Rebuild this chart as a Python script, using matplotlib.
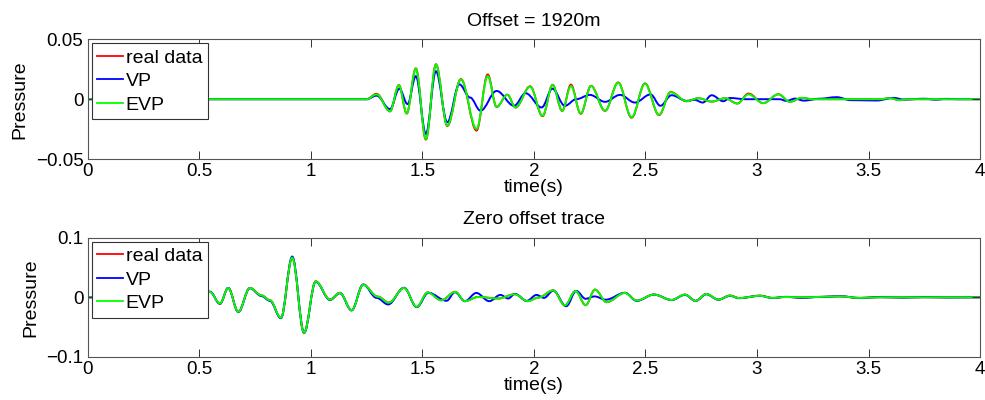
"""Seismic trace comparison: real data vs VP vs EVP modelling."""

import matplotlib

matplotlib.use("Agg")
import matplotlib.pyplot as plt
from matplotlib.lines import Line2D
from matplotlib.patches import PathPatch
from matplotlib.path import Path

plt.rcParams["font.family"] = ["Liberation Sans", "DejaVu Sans"]

# --- data (extrema of each trace: time in s, pressure) ---
# Offset = 1920 m (real data and EVP share the picked times)
far_t = [0, 1.25, 1.295, 1.355, 1.395, 1.430, 1.471, 1.516, 1.561, 1.612,
         1.673, 1.743, 1.793, 1.833, 1.881, 1.918, 1.983, 2.039, 2.084, 2.127,
         2.166, 2.210, 2.256, 2.319, 2.378, 2.438, 2.498, 2.561, 2.613, 2.685,
         2.737, 2.797, 2.857, 2.912, 2.962, 3.028, 3.096, 3.148, 3.200, 3.25,
         3.55, 3.596, 3.64, 3.68, 4.0]
far_real = [0, 0, 0.0045, -0.0102, 0.0118, -0.012, 0.0258, -0.0338, 0.0292, -0.0224,
            0.0168, -0.0262, 0.0207, -0.0065, 0.0038, -0.007, 0.0108, -0.0142, 0.012, -0.0098,
            0.0122, -0.0122, 0.0112, -0.0098, 0.014, -0.0155, 0.0132, -0.0133, 0.006, -0.0017,
            0.0008, -0.002, 0.0008, -0.0036, 0.0047, -0.0033, 0.0041, -0.0022, 0.0011, 0,
            0, 0.0008, -0.0008, 0, 0]
far_evp = [0, 0, 0.004, -0.010, 0.0116, -0.0118, 0.0256, -0.0333, 0.029, -0.022,
           0.0165, -0.0248, 0.0193, -0.0063, 0.0036, -0.0069, 0.0105, -0.0138, 0.0118, -0.0096,
           0.011, -0.0118, 0.011, -0.0096, 0.0138, -0.0151, 0.013, -0.013, 0.0058, -0.0017,
           0.0008, -0.002, 0.0008, -0.0036, 0.004, -0.0033, 0.0041, -0.0022, 0.0011, 0,
           0, 0.0008, -0.0008, 0, 0]
far_vp_t = [0, 1.25, 1.295, 1.355, 1.397, 1.434, 1.471, 1.516, 1.561, 1.612,
            1.666, 1.714, 1.761, 1.833, 1.911, 1.963, 2.035, 2.083, 2.139, 2.190,
            2.251, 2.319, 2.386, 2.453, 2.523, 2.567, 2.617, 2.685, 2.720, 2.757,
            2.797, 2.849, 2.879, 2.95, 3.10, 3.133, 3.17, 3.21, 3.28, 3.357,
            3.42, 3.537, 3.611, 3.66, 3.75, 3.80, 3.85, 3.90, 4.0]
far_vp = [0, 0, 0.003, -0.0083, 0.0088, -0.0041, 0.0193, -0.029, 0.0234, -0.0193,
          0.0124, 0.0014, -0.0096, 0.0069, -0.0055, 0.005, -0.0069, 0.0088, -0.0055, 0.0,
          0.0036, -0.0022, 0.0036, -0.0028, 0.004, -0.0055, 0.0033, -0.0014, -0.0005, -0.0028,
          0.0033, -0.0017, 0.001, 0, 0, -0.0014, 0.0005, -0.0012, 0.0004, 0.0017,
          -0.0008, -0.0011, 0.0011, -0.0003, 0.0004, -0.0004, 0.0003, 0, 0]

# Zero offset trace
zero_t = [0, 0.51, 0.548, 0.593, 0.630, 0.675, 0.727, 0.780, 0.817, 0.866,
          0.917, 0.970, 1.022, 1.086, 1.131, 1.183, 1.235, 1.300, 1.350, 1.418,
          1.475, 1.524, 1.585, 1.648, 1.691, 1.75, 1.84, 1.915, 1.972, 2.02,
          2.087, 2.139, 2.187, 2.232, 2.274, 2.326, 2.408, 2.461, 2.538, 2.618,
          2.677, 2.725, 2.773, 2.827, 2.879, 2.92, 3.013, 3.07, 3.13, 3.2,
          3.372, 3.46, 3.55, 4.0]
zero_real = [0, 0, 0.0092, -0.0107, 0.0158, -0.0246, 0.0158, 0.0032, -0.0048, -0.0346,
             0.0668, -0.0596, 0.0269, -0.0036, 0.0076, -0.0218, 0.0212, 0.0012, -0.0088, 0.0158,
             -0.0162, 0.0082, -0.005, 0.0092, -0.0065, 0.0005, -0.002, 0.0052, -0.0065, -0.0005,
             0.0117, -0.0137, 0.0107, -0.0133, 0.013, -0.0082, 0.0075, -0.0055, 0.0047, -0.0045,
             0.0045, -0.006, 0.0057, -0.0039, 0.003, -0.0013, 0.0028, -0.001, 0.0005, 0.0,
             0.0016, -0.001, 0, 0]
zero_evp = [0, 0, 0.009, -0.0105, 0.0156, -0.0244, 0.0156, 0.003, -0.005, -0.0344,
            0.0665, -0.0594, 0.0267, -0.0039, 0.0073, -0.0217, 0.021, 0.001, -0.009, 0.0156,
            -0.016, 0.008, -0.005, 0.009, -0.0065, 0.0005, -0.002, 0.005, -0.0065, -0.0005,
            0.0115, -0.0135, 0.0105, -0.013, 0.0128, -0.008, 0.0073, -0.0055, 0.0045, -0.0045,
            0.0045, -0.006, 0.0055, -0.0039, 0.0028, -0.0013, 0.0025, -0.001, 0.0005, 0.0,
            0.0015, -0.001, 0, 0]
zero_vp_t = [0, 0.51, 0.548, 0.593, 0.630, 0.675, 0.727, 0.780, 0.817, 0.866,
             0.917, 0.970, 1.022, 1.086, 1.131, 1.183, 1.235, 1.295, 1.347, 1.418,
             1.475, 1.527, 1.609, 1.646, 1.691, 1.742, 1.800, 1.850, 1.885, 1.915,
             1.968, 2.012, 2.045, 2.087, 2.145, 2.190, 2.232, 2.272, 2.322, 2.408,
             2.461, 2.538, 2.618, 2.677, 2.725, 2.773, 2.827, 2.879, 2.92, 3.013,
             3.07, 3.13, 3.2, 3.28, 3.372, 3.46, 3.55, 3.65, 3.75, 3.85,
             4.0]
zero_vp = [0, 0, 0.0095, -0.011, 0.0158, -0.0246, 0.0152, 0.002, -0.006, -0.0352,
           0.0685, -0.0598, 0.0262, -0.0045, 0.0068, -0.022, 0.0215, -0.001, -0.012, 0.016,
           -0.0165, 0.0075, -0.0058, 0.0085, -0.0065, 0.0073, -0.0065, 0.004, -0.002, 0.0057,
           -0.006, 0.004, -0.001, 0.011, -0.015, 0.0107, -0.0025, 0.0015, -0.004, 0.0075,
           -0.006, 0.0045, -0.0045, 0.0042, -0.006, 0.005, -0.004, 0.0025, -0.0015, 0.0025,
           -0.0012, 0.0008, -0.001, 0.0005, 0.0018, -0.0012, 0.0005, -0.0006, 0.0004, -0.0003,
           0]

series_labels = ["real data", "VP", "EVP"]
series_colors = ["#ff0000", "#0000ff", "#00ff00"]
x_ticks = [0, 0.5, 1, 1.5, 2, 2.5, 3, 3.5, 4]
x_tick_labels = ["0", "0.5", "1", "1.5", "2", "2.5", "3", "3.5", "4"]


def trace_patch(t, v, color, k=0.36, lw=1.4):
    """Smooth curve through picked extrema (horizontal tangent at each pick)."""
    verts = [(t[0], v[0])]
    codes = [Path.MOVETO]
    for i in range(len(t) - 1):
        dt = t[i + 1] - t[i]
        verts += [(t[i] + k * dt, v[i]), (t[i + 1] - k * dt, v[i + 1]), (t[i + 1], v[i + 1])]
        codes += [Path.CURVE4] * 3
    return PathPatch(Path(verts, codes), facecolor="none", edgecolor=color,
                     lw=lw, joinstyle="round", capstyle="round")


def style_axes(ax, title, ylim, yticks, ylabels):
    ax.set_xlim(0, 4)
    ax.set_ylim(*ylim)
    ax.set_xticks(x_ticks)
    ax.set_xticklabels(x_tick_labels)
    ax.set_yticks(yticks)
    ax.set_yticklabels(ylabels)
    ax.tick_params(direction="in", top=True, right=True, length=5.5, width=0.7,
                   colors="#333333", labelcolor="black", labelsize=13.5, pad=3)
    for sp in ax.spines.values():
        sp.set_color("#555555")
        sp.set_linewidth(0.8)
    ax.set_title(title, fontsize=14, pad=10)
    ax.set_xlabel("time(s)", fontsize=14, labelpad=-1)
    ax.set_ylabel("Pressure", fontsize=14, labelpad=5)
    handles = [Line2D([], [], color=c, lw=1.3) for c in series_colors]
    leg = ax.legend(handles, series_labels, loc="upper left", fontsize=14,
                    frameon=True, fancybox=False, framealpha=1, edgecolor="#333333",
                    handlelength=1.3, handletextpad=0.15, labelspacing=0.3,
                    borderpad=0.3, borderaxespad=0.2)
    leg.get_frame().set_linewidth(0.8)


fig = plt.figure(figsize=(9.85, 4.0), dpi=100)
ax1 = fig.add_axes([0.089, 0.6025, 0.906, 0.299])
ax2 = fig.add_axes([0.089, 0.108, 0.906, 0.2975])

for ax, traces in [
    (ax1, [(far_t, far_real), (far_vp_t, far_vp), (far_t, far_evp)]),
    (ax2, [(zero_t, zero_real), (zero_vp_t, zero_vp), (zero_t, zero_evp)]),
]:
    for (t, v), color in zip(traces, series_colors):
        ax.add_patch(trace_patch(t, v, color))

style_axes(ax1, "Offset = 1920m", (-0.05, 0.05), [-0.05, 0, 0.05], ["\u22120.05", "0", "0.05"])
style_axes(ax2, "Zero offset trace", (-0.1, 0.1), [-0.1, 0, 0.1], ["\u22120.1", "0", "0.1"])

fig.savefig("out.png", dpi=100)
